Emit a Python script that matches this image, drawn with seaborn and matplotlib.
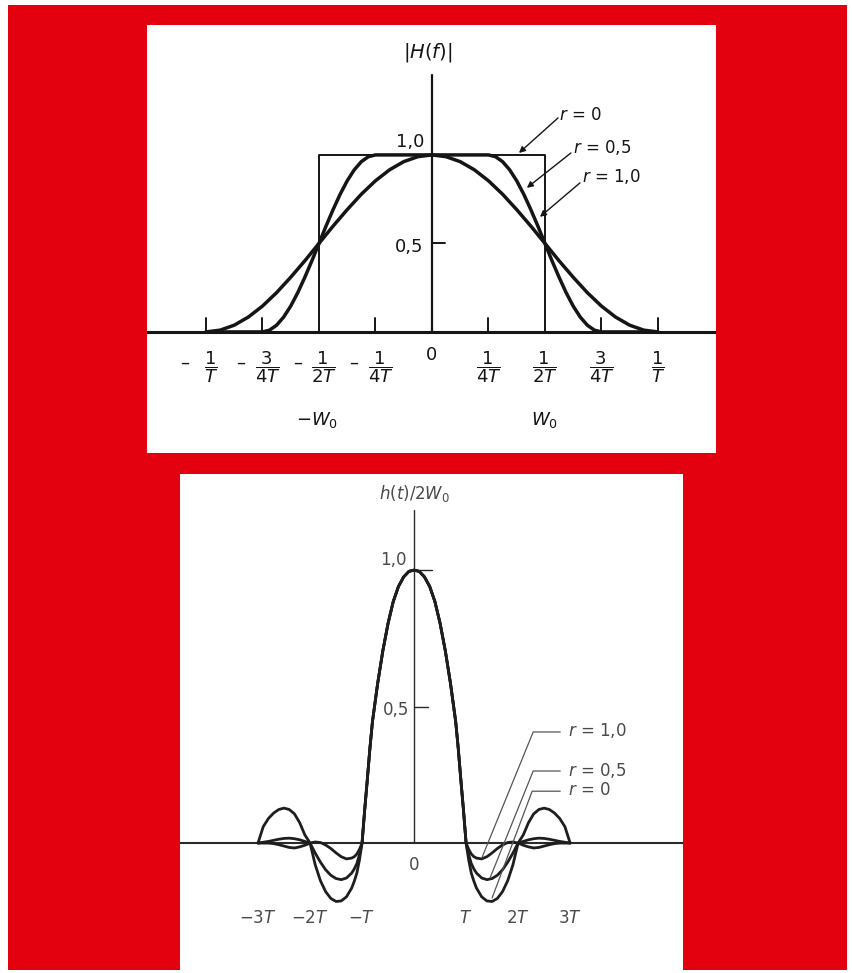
import numpy as np
import pandas as pd
import seaborn as sns
import matplotlib
matplotlib.use('Agg')
import matplotlib.pyplot as plt
from matplotlib.patches import Rectangle

###############################>DATA<###############################
# top: |H(f)| against f (units of 1/T)
rect_f = [-1.3, -0.5, -0.5, 0.5, 0.5, 1.3]
rect_H = [0.0, 0.0, 1.0, 1.0, 0.0, 0.0]

f_r05 = [-1.0, -0.75, -0.71875, -0.6875, -0.65625, -0.625, -0.59375, -0.5625, -0.53125,
         -0.5, -0.46875, -0.4375, -0.40625, -0.375, -0.34375, -0.3125, -0.28125, -0.25,
         0.25, 0.28125, 0.3125, 0.34375, 0.375, 0.40625, 0.4375, 0.46875, 0.5,
         0.53125, 0.5625, 0.59375, 0.625, 0.65625, 0.6875, 0.71875, 0.75, 1.0]
H_r05 = [0.0, 0.0, 0.010, 0.038, 0.084, 0.146, 0.222, 0.309, 0.402,
         0.5, 0.598, 0.691, 0.778, 0.854, 0.916, 0.962, 0.990, 1.0,
         1.0, 0.990, 0.962, 0.916, 0.854, 0.778, 0.691, 0.598, 0.5,
         0.402, 0.309, 0.222, 0.146, 0.084, 0.038, 0.010, 0.0, 0.0]

f_r10 = [-1.0, -0.9375, -0.875, -0.8125, -0.75, -0.6875, -0.625, -0.5625, -0.5,
         -0.4375, -0.375, -0.3125, -0.25, -0.1875, -0.125, -0.0625, 0.0,
         0.0625, 0.125, 0.1875, 0.25, 0.3125, 0.375, 0.4375, 0.5,
         0.5625, 0.625, 0.6875, 0.75, 0.8125, 0.875, 0.9375, 1.0]
H_r10 = [0.0, 0.010, 0.038, 0.084, 0.146, 0.222, 0.309, 0.402, 0.5,
         0.598, 0.691, 0.778, 0.854, 0.916, 0.962, 0.990, 1.0,
         0.990, 0.962, 0.916, 0.854, 0.778, 0.691, 0.598, 0.5,
         0.402, 0.309, 0.222, 0.146, 0.084, 0.038, 0.010, 0.0]

# bottom: h(t)/2W0 against t (units of T)
t_grid = [-3.0, -2.9, -2.8, -2.7, -2.6, -2.5, -2.4, -2.3, -2.2, -2.1,
          -2.0, -1.9, -1.8, -1.7, -1.6, -1.5, -1.4, -1.3, -1.2, -1.15, -1.1, -1.05,
          -1.0, -0.95, -0.9, -0.85, -0.8, -0.7, -0.6, -0.5, -0.4, -0.3, -0.2, -0.1,
          0.0,
          0.1, 0.2, 0.3, 0.4, 0.5, 0.6, 0.7, 0.8, 0.85, 0.9, 0.95, 1.0,
          1.05, 1.1, 1.15, 1.2, 1.3, 1.4, 1.5, 1.6, 1.7, 1.8, 1.9, 2.0,
          2.1, 2.2, 2.3, 2.4, 2.5, 2.6, 2.7, 2.8, 2.9, 3.0]
h_r0 = [0.0, 0.06, 0.09, 0.11, 0.123, 0.128, 0.123, 0.107, 0.075, 0.03,
        0.0, -0.08, -0.138, -0.178, -0.203, -0.214, -0.212, -0.197, -0.165, -0.14, -0.11, -0.062,
        0.0, 0.12, 0.23, 0.345, 0.445, 0.585, 0.705, 0.805, 0.885, 0.94, 0.975, 0.995,
        1.0,
        0.995, 0.975, 0.94, 0.885, 0.805, 0.705, 0.585, 0.445, 0.345, 0.23, 0.12, 0.0,
        -0.062, -0.11, -0.14, -0.165, -0.197, -0.212, -0.214, -0.203, -0.178, -0.138, -0.08, 0.0,
        0.03, 0.075, 0.107, 0.123, 0.128, 0.123, 0.11, 0.09, 0.06, 0.0]
h_r05 = [0.0, 0.003, 0.006, 0.010, 0.014, 0.017, 0.018, 0.016, 0.012, 0.006,
         0.0, -0.037, -0.07, -0.098, -0.118, -0.13, -0.134, -0.128, -0.11, -0.095, -0.075, -0.042,
         0.0, 0.12, 0.23, 0.345, 0.445, 0.585, 0.705, 0.805, 0.885, 0.94, 0.975, 0.995,
         1.0,
         0.995, 0.975, 0.94, 0.885, 0.805, 0.705, 0.585, 0.445, 0.345, 0.23, 0.12, 0.0,
         -0.042, -0.075, -0.095, -0.11, -0.128, -0.134, -0.13, -0.118, -0.098, -0.07, -0.037, 0.0,
         0.006, 0.012, 0.016, 0.018, 0.017, 0.014, 0.010, 0.006, 0.003, 0.0]
h_r10 = [0.0, 0.0, 0.0, -0.002, -0.006, -0.011, -0.016, -0.018, -0.014, -0.008,
         0.0, 0.004, 0.002, -0.007, -0.02, -0.036, -0.05, -0.058, -0.055, -0.05, -0.04, -0.023,
         0.0, 0.12, 0.23, 0.345, 0.445, 0.585, 0.705, 0.805, 0.885, 0.94, 0.975, 0.995,
         1.0,
         0.995, 0.975, 0.94, 0.885, 0.805, 0.705, 0.585, 0.445, 0.345, 0.23, 0.12, 0.0,
         -0.023, -0.04, -0.05, -0.055, -0.058, -0.05, -0.036, -0.02, -0.007, 0.002, 0.004, 0.0,
         -0.008, -0.014, -0.018, -0.016, -0.011, -0.006, -0.002, 0.0, 0.0, 0.0]

top_ticks = [-1.0, -0.75, -0.5, -0.25, 0.0, 0.25, 0.5, 0.75, 1.0]
top_labels = [r'$\dfrac{1}{T}$', r'$\dfrac{3}{4T}$', r'$\dfrac{1}{2T}$', r'$\dfrac{1}{4T}$', '0',
              r'$\dfrac{1}{4T}$', r'$\dfrac{1}{2T}$', r'$\dfrac{3}{4T}$', r'$\dfrac{1}{T}$']
bot_ticks = [-3, -2, -1, 1, 2, 3]
bot_labels = [r'$-3T$', r'$-2T$', r'$-T$', r'$T$', r'$2T$', r'$3T$']

###############################>STYLE<###############################
sns.set_style('white')
plt.rcParams['font.family'] = ['DejaVu Sans']
plt.rcParams['mathtext.fontset'] = 'dejavusans'
ink = '#151515'
grey = '#4a4a4a'

fig = plt.figure(figsize=(8.53, 9.73), dpi=100)
fig.add_artist(Rectangle((8 / 853, 1 - 970 / 973), (847 - 8) / 853, (970 - 5) / 973,
                         transform=fig.transFigure, facecolor='#E3000F', edgecolor='none', zorder=-5))

def blank(ax):
    ax.set_facecolor('white')
    ax.set_xticks([])
    ax.set_yticks([])
    sns.despine(ax=ax, left=True, bottom=True, top=True, right=True)

###############################>TOP PANEL<###############################
ax1 = fig.add_axes([147 / 853, 1 - 453 / 973, 569 / 853, 428 / 973])
blank(ax1)
ax1.set_xlim(-1.261, 1.257)
ax1.set_ylim(-0.684, 1.734)

ax1.axhline(0, color=ink, lw=2.2)
ax1.plot([0, 0], [0, 1.452], color=ink, lw=1.6)
for x in [-1.0, -0.75, -0.25, 0.25, 0.75, 1.0]:
    ax1.plot([x, x], [0, 0.08], color=ink, lw=1.4)
ax1.plot([0, 0.058], [0.5, 0.5], color=ink, lw=1.4)

sns.lineplot(x=rect_f, y=rect_H, ax=ax1, color=ink, lw=1.4, sort=False, estimator=None)
sns.lineplot(x=f_r05, y=H_r05, ax=ax1, color=ink, lw=2.5, sort=False, estimator=None)
sns.lineplot(x=f_r10, y=H_r10, ax=ax1, color=ink, lw=2.5, sort=False, estimator=None)

for x, lab in zip(top_ticks, top_labels):
    if x < 0:
        ax1.text(x + 0.022, -0.198, lab, ha='center', va='center', fontsize=13, color=ink)
        ax1.text(x - 0.095, -0.175, '\u2013', ha='center', va='center', fontsize=13, color=ink)
    elif x == 0:
        ax1.text(x, -0.13, lab, ha='center', va='center', fontsize=13, color=ink)
    else:
        ax1.text(x, -0.198, lab, ha='center', va='center', fontsize=13, color=ink)

ax1.text(-0.509, -0.497, r'$-W_0$', ha='center', va='center', fontsize=13, color=ink)
ax1.text(0.50, -0.497, r'$W_0$', ha='center', va='center', fontsize=13, color=ink)
ax1.text(-0.018, 1.58, r'$|H(f)|$', ha='center', va='center', fontsize=14, color=ink)
ax1.text(-0.097, 1.075, '1,0', ha='center', va='center', fontsize=13, color=ink)
ax1.text(-0.10, 0.482, '0,5', ha='center', va='center', fontsize=13, color=ink)

arrow = dict(arrowstyle='-|>', color=ink, lw=1.0, mutation_scale=9, shrinkA=0, shrinkB=0)
ax1.annotate('', xy=(0.385, 1.011), xytext=(0.558, 1.209), arrowprops=arrow)
ax1.annotate('', xy=(0.420, 0.814), xytext=(0.615, 1.011), arrowprops=arrow)
ax1.annotate('', xy=(0.478, 0.650), xytext=(0.655, 0.842), arrowprops=arrow)
ax1.text(0.562, 1.226, r'$r$ = 0', ha='left', va='center', fontsize=12, color=ink)
ax1.text(0.626, 1.040, r'$r$ = 0,5', ha='left', va='center', fontsize=12, color=ink)
ax1.text(0.666, 0.876, r'$r$ = 1,0', ha='left', va='center', fontsize=12, color=ink)

###############################>BOTTOM PANEL<###############################
ax2 = fig.add_axes([180 / 853, 1 - 970 / 973, 503 / 853, 496 / 973])
blank(ax2)
ax2.set_xlim(-4.5, 5.17)
ax2.set_ylim(-0.465, 1.352)

ax2.axhline(0, color='#2a2a2a', lw=1.5)
ax2.plot([0, 0], [0, 1.22], color='#2a2a2a', lw=1.0)
ax2.plot([0, 0.27], [0.5, 0.5], color='#2a2a2a', lw=1.0)
ax2.plot([-0.1, 0.35], [1.0, 1.0], color='#2a2a2a', lw=1.0)

for h in [h_r0, h_r05, h_r10]:
    sns.lineplot(x=t_grid, y=h, ax=ax2, color='#1e1e1e', lw=2.0, sort=False, estimator=None)

for x, lab in zip(bot_ticks, bot_labels):
    ax2.text(x, -0.275, lab, ha='center', va='center', fontsize=12, color=grey)
ax2.text(0, -0.08, '0', ha='center', va='center', fontsize=12, color=grey)
ax2.text(-0.40, 1.037, '1,0', ha='center', va='center', fontsize=12, color=grey)
ax2.text(-0.35, 0.487, '0,5', ha='center', va='center', fontsize=12, color=grey)
ax2.text(0, 1.282, r'$h(t)/2W_0$', ha='center', va='center', fontsize=12, color=grey)

leaders = [((2.81, 0.407), (2.29, 0.407), (1.31, -0.051), r'$r$ = 1,0', 0.414),
           ((2.81, 0.264), (2.29, 0.264), (1.46, -0.128), r'$r$ = 0,5', 0.267),
           ((2.81, 0.190), (2.27, 0.190), (1.50, -0.201), r'$r$ = 0', 0.194)]
for a, b, c, lab, ty in leaders:
    ax2.plot([a[0], b[0], c[0]], [a[1], b[1], c[1]], color='#555555', lw=0.9)
    ax2.text(2.96, ty, lab, ha='left', va='center', fontsize=12, color=grey)

plt.savefig('out.png', dpi=100)
